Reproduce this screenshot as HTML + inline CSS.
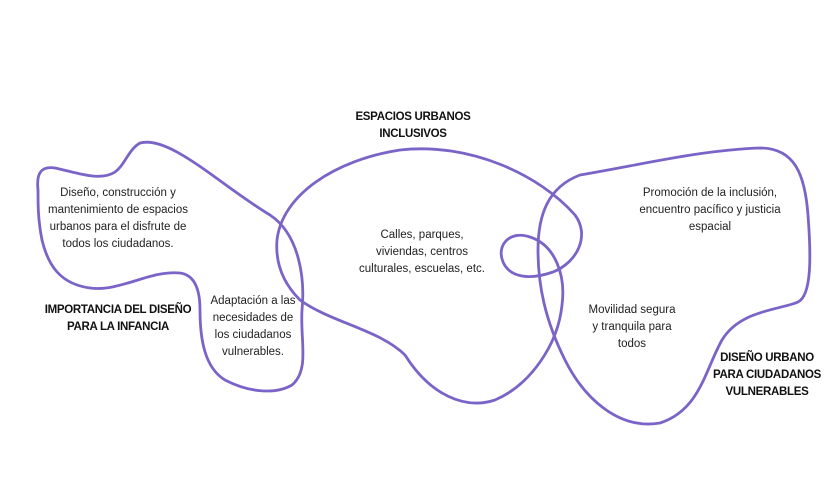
<!DOCTYPE html>
<html><head><meta charset="utf-8"><style>
html,body{margin:0;padding:0;background:#fff}
.w{position:relative;width:828px;height:498px;overflow:hidden;font-family:"Liberation Sans",sans-serif}
.t{position:absolute;text-align:center;font-size:11.5px;line-height:17px;color:#222;transform:translateX(-50%);white-space:nowrap}
.b{font-weight:bold;color:#111;font-size:11.5px;line-height:17px;letter-spacing:-0.3px}
svg{position:absolute;left:0;top:0}
</style></head><body><div class="w">
<svg width="828" height="498" viewBox="0 0 828 498" fill="none" stroke="#7b64c7" stroke-width="2.8" stroke-linecap="round" stroke-linejoin="round">
<path d="M38,190 C36,172 42,166 55,168 C75,172 100,182 115,172 C125,165 128,150 140,143 C170,135 220,185 270,215 C300,235 305,280 302,310 C300,340 310,370 292,385 C275,395 248,392 225,380 C205,368 200,340 200,310 C200,290 195,275 180,273 C150,270 120,292 90,288 C60,284 48,265 42,240 C38,220 38,205 38,190 Z"/>
<path d="M300,300 C285,285 275,265 277,240 C282,195 335,160 400,150 C470,142 540,175 575,215 C590,235 578,262 553,272 C530,280 510,278 503,262 C496,245 510,230 530,237 C555,245 566,275 562,305 C558,345 530,385 495,400 C465,410 430,395 405,355 C380,330 330,322 300,300 Z"/>
<path d="M580,175 C640,165 700,150 760,148 C795,148 805,175 808,215 C811,255 812,295 798,302 C780,310 740,310 722,340 C705,370 700,410 660,423 C620,430 585,400 565,360 C545,320 538,285 538,250 C538,215 548,187 580,175 Z"/>
</svg>
<div class="t b" style="left:413px;top:109px">ESPACIOS URBANOS<br>INCLUSIVOS</div>
<div class="t" style="left:118px;top:185px">Diseño, construcción y<br>mantenimiento de espacios<br>urbanos para el disfrute de<br>todos los ciudadanos.</div>
<div class="t b" style="left:118px;top:302px">IMPORTANCIA DEL DISEÑO<br>PARA LA INFANCIA</div>
<div class="t" style="left:253px;top:293px">Adaptación a las<br>necesidades de<br>los ciudadanos<br>vulnerables.</div>
<div class="t" style="left:422px;top:227px">Calles, parques,<br>viviendas, centros<br>culturales, escuelas, etc.</div>
<div class="t" style="left:710px;top:185px">Promoción de la inclusión,<br>encuentro pacífico y justicia<br>espacial</div>
<div class="t" style="left:632px;top:302px">Movilidad segura<br>y tranquila para<br>todos</div>
<div class="t b" style="left:767px;top:350px">DISEÑO URBANO<br>PARA CIUDADANOS<br>VULNERABLES</div>
</div></body></html>
